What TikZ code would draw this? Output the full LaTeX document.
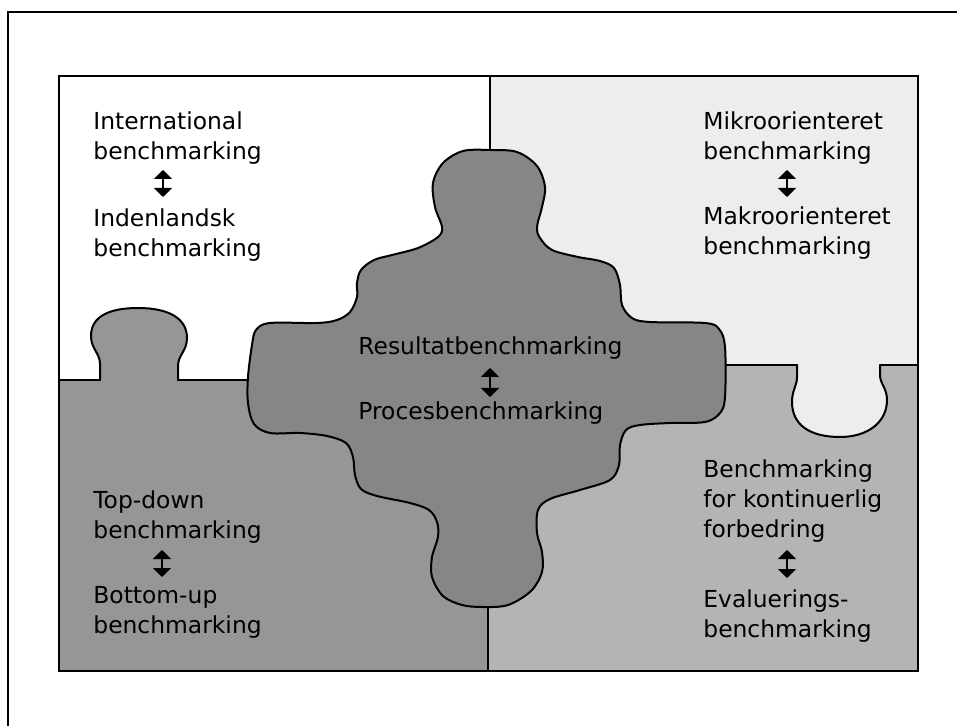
\documentclass[tikz,border=0pt]{standalone}
\usepackage{fontspec}
\newfontfamily\dvsans{DejaVu Sans}
\usetikzlibrary{arrows.meta}
\definecolor{lightfill}{HTML}{EDEDED}
\definecolor{blfill}{HTML}{969696}
\definecolor{brfill}{HTML}{B4B4B4}
\definecolor{cfill}{HTML}{868686}
\begin{document}
\begin{tikzpicture}[x=0.5pt,y=-0.5pt,
  txt/.style={anchor=base west, inner sep=0pt, align=left, font=\dvsans\fontsize{11.7}{15}\selectfont},
  dbl/.style={line width=1pt, {Triangle[width=9pt,length=4.5pt]}-{Triangle[width=9pt,length=4.5pt]}},
  outl/.style={line width=1pt, line join=round, line cap=round},
  frame/.style={line width=1.1pt}]
\useasboundingbox (0,0) rectangle (957,726);
% regions
\fill[lightfill] (490,76) rectangle (918,365);
\fill[brfill] (488,365) rectangle (918,671);
\fill[blfill] (59,380) rectangle (488,671);
% notch of top-right piece into bottom-right piece
\filldraw[outl, fill=lightfill] (797,365) -- (797,377) .. controls (797,386) and (792,390) .. (792,402)
  .. controls (792,425) and (810,437) .. (840,437) .. controls (868,437) and (887,422) .. (887,400)
  .. controls (887,388) and (880,384) .. (880,375) -- (880,365);
% knob of bottom-left piece
\filldraw[outl, fill=blfill] (100,380) -- (100,364) .. controls (100,353) and (91,349) .. (91,336)
  .. controls (91,316) and (110,308) .. (138,308) .. controls (168,308) and (187,318) .. (187,338)
  .. controls (187,351) and (178,355) .. (178,366) -- (178,380);
% dividers
\draw[outl] (59,380) -- (100,380);
\draw[outl] (178,380) -- (260,380);
\draw[outl] (715,365) -- (797,365);
\draw[outl] (880,365) -- (918,365);
\draw[outl] (490,76) -- (490,160);
\draw[outl] (488,600) -- (488,671);
% centre piece
\draw[outl, fill=cfill] plot[smooth cycle, tension=0.55] coordinates {
 (463,151) (490,150) (517,152) (537,166) (545,187) (542,207) (537,227) (540,238) (552,250)
 (578,257) (600,261) (614,268) (620,285) (622,305) (632,318) (650,322) (705,323) (719,329)
 (725,347) (725,397) (720,413) (705,422) (670,423) (640,425) (626,430) (620,445) (619,465)
 (610,480) (580,490) (550,499) (538,510) (537,533) (542,552) (542,572) (531,591) (508,605)
 (483,607) (462,605) (443,596) (432,577) (432,557) (438,537) (437,522) (429,510) (410,503)
 (377,496) (361,489) (355,475) (353,457) (346,443) (327,436) (300,433) (270,433) (254,424)
 (248,403) (248,377) (252,345) (256,330) (270,323) (317,323) (337,320) (350,312) (357,297)
 (357,283) (361,270) (374,260) (392,255) (418,248) (438,237) (442,227) (435,207) (433,183)
 (443,163)};
% borders
\draw[frame] (59,76) rectangle (918,671);
\draw[frame] (8,726) -- (8,12) -- (957,12);
% texts (base anchor = baseline of the last line)
\node[txt] (tl1) at (93,160) {International\\benchmarking};
\node[txt] (tl2) at (93,257) {Indenlandsk\\benchmarking};
\node[txt] (tr1) at (703,160) {Mikroorienteret\\benchmarking};
\node[txt] (tr2) at (703,255) {Makroorienteret\\benchmarking};
\node[txt] (c1) at (358,355) {Resultatbenchmarking};
\node[txt] (c2) at (358,420) {Procesbenchmarking};
\node[txt] (bl1) at (93,538) {Top-down\\benchmarking};
\node[txt] (bl2) at (93,633) {Bottom-up\\benchmarking};
\node[txt] (br1) at (703,537) {Benchmarking\\for kontinuerlig\\forbedring};
\node[txt] (br2) at (703,637) {Evaluerings-\\benchmarking};
% arrows
\coordinate (tlA) at (163,170); \coordinate (tlB) at (163,197);
\coordinate (trA) at (787,170); \coordinate (trB) at (787,197);
\coordinate (cA) at (490,368); \coordinate (cB) at (490,397);
\coordinate (blA) at (162,550); \coordinate (blB) at (162,577);
\coordinate (brA) at (787,550); \coordinate (brB) at (787,578);
\draw[dbl] (tlA) -- (tlB);
\draw[dbl] (trA) -- (trB);
\draw[dbl] (cA) -- (cB);
\draw[dbl] (blA) -- (blB);
\draw[dbl] (brA) -- (brB);
\end{tikzpicture}
\end{document}
